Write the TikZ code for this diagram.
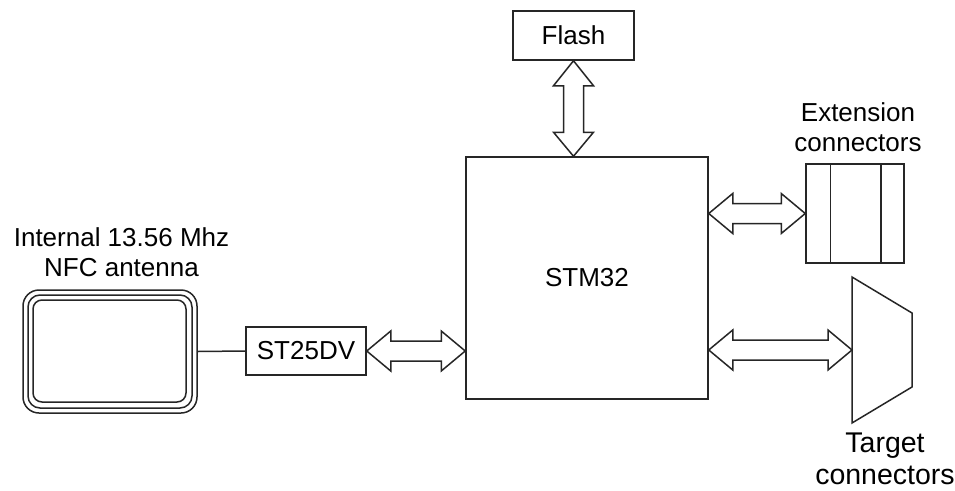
\documentclass[tikz,border=0pt]{standalone}
\usepackage{fontspec}
\setmainfont{Liberation Sans}
\usetikzlibrary{calc}
\tikzset{
  ln/.style={draw=black!85, line width=1.5pt},
  blk/.style={ln, rectangle, inner sep=0pt, font=\fontsize{26}{30}\selectfont},
  lbl/.style={align=center, inner sep=0pt, font=\fontsize{26}{30}\selectfont},
  fat/.style={ln, fill=white, line join=miter},
}
% horizontal double arrow between two tips (left tip #1, right tip #2)
\newcommand\hdblarrow[2]{%
  \draw[fat] (#1) -- ($(#1)+(24,-20)$) -- ($(#1)+(24,-10)$) -- ($(#2)+(-24,-10)$)
    -- ($(#2)+(-24,-20)$) -- (#2) -- ($(#2)+(-24,20)$) -- ($(#2)+(-24,10)$)
    -- ($(#1)+(24,10)$) -- ($(#1)+(24,20)$) -- cycle;}
% vertical double arrow (top tip #1, bottom tip #2)
\newcommand\vdblarrow[2]{%
  \draw[fat] (#1) -- ($(#1)+(20,25)$) -- ($(#1)+(10,25)$) -- ($(#2)+(10,-24)$)
    -- ($(#2)+(20,-24)$) -- (#2) -- ($(#2)+(-20,-24)$) -- ($(#2)+(-10,-24)$)
    -- ($(#1)+(-10,25)$) -- ($(#1)+(-20,25)$) -- cycle;}
\begin{document}
\begin{tikzpicture}[x=1pt,y=-1pt]
\useasboundingbox (0,0) rectangle (955,490);
% main blocks
\node[blk, minimum width=242pt, minimum height=242pt] (stm) at (587,278) {STM32};
\node[blk, minimum width=121pt, minimum height=49pt] (flash) at (573.5,35.5) {Flash};
\node[blk, minimum width=120pt, minimum height=48pt] (st) at (306,351) {ST25DV};
% extension connectors
\node[ln, rectangle, minimum width=98pt, minimum height=99pt, inner sep=0pt] (ext) at (855,213.5) {};
\draw[ln] ($(ext.north west)+(25,0)$) -- ($(ext.south west)+(25,0)$);
\draw[ln] ($(ext.north east)+(-24,0)$) -- ($(ext.south east)+(-24,0)$);
\node[lbl] (extl) at (858,127) {Extension\\connectors};
% target connectors trapezoid
\coordinate (tgt) at (852,350);
\draw[ln, line join=miter] (852,277) -- (912,313) -- (912,387) -- (852,423) -- cycle;
\node[lbl, font=\fontsize{28.5}{32}\selectfont] (tgtl) at (885,459) {Target\\connectors};
% antenna
\node[ln, rectangle, rounded corners=16pt, minimum width=174pt, minimum height=123pt, inner sep=0pt] (ant) at (110,351.5) {};
\node[ln, rectangle, rounded corners=12pt, minimum width=164pt, minimum height=113pt, inner sep=0pt] (ant2) at (110,351.5) {};
\node[ln, rectangle, rounded corners=9pt, minimum width=153pt, minimum height=102pt, inner sep=0pt] (ant3) at (109.5,351) {};
\node[lbl] (antl) at (121.5,252) {Internal 13.56 Mhz\\NFC antenna};
% connectors
\draw[ln] (ant.east) -- (st.west);
\hdblarrow{st.east}{st.east -| stm.west}
\hdblarrow{ext.west -| stm.east}{ext.west}
\hdblarrow{tgt -| stm.east}{tgt}
\vdblarrow{flash.south}{flash.south |- stm.north}
\end{tikzpicture}
\end{document}
